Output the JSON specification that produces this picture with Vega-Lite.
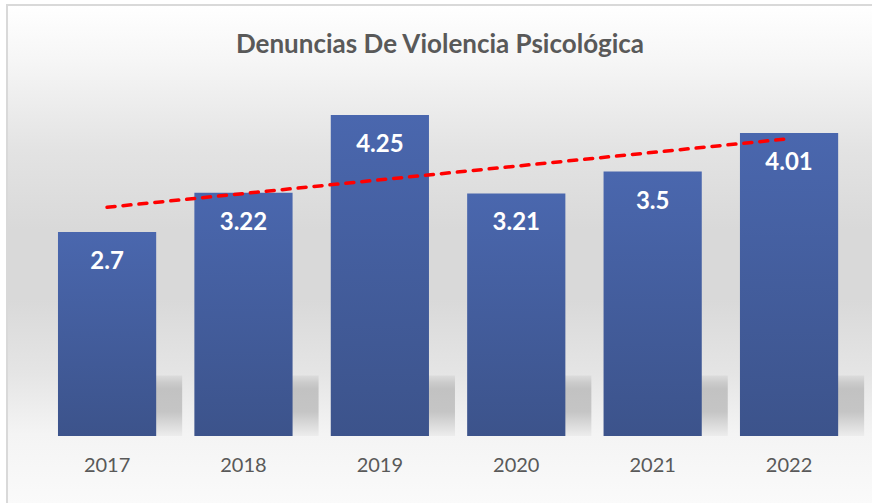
{
  "$schema": "https://vega.github.io/schema/vega-lite/v6.json",
  "width": 866,
  "height": 499,
  "autosize": {"type": "none"},
  "padding": {"left": 7, "top": 5, "right": 0, "bottom": 0},
  "background": "#ffffff",
  "config": {
    "view": {
      "stroke": "#d9d9d9",
      "strokeWidth": 2,
      "fill": {
        "gradient": "linear", "x1": 0, "y1": 0, "x2": 0, "y2": 1,
        "stops": [
          {"offset": 0, "color": "#ffffff"},
          {"offset": 0.11, "color": "#f6f6f6"},
          {"offset": 0.29, "color": "#e3e3e3"},
          {"offset": 0.45, "color": "#d9d9d9"},
          {"offset": 0.59, "color": "#d9d9d9"},
          {"offset": 0.74, "color": "#e5e5e5"},
          {"offset": 0.86, "color": "#f4f4f4"},
          {"offset": 1, "color": "#fafafa"}
        ]
      }
    },
    "font": "Lato"
  },
  "title": {
    "text": "Denuncias De Violencia Psicológica",
    "font": "Lato",
    "fontSize": 26,
    "fontWeight": "bold",
    "color": "#595959",
    "anchor": "middle",
    "offset": -53
  },
  "data": {
    "values": [
      {"year": 2017, "value": 2.7},
      {"year": 2018, "value": 3.22},
      {"year": 2019, "value": 4.25},
      {"year": 2020, "value": 3.21},
      {"year": 2021, "value": 3.5},
      {"year": 2022, "value": 4.01}
    ]
  },
  "encoding": {
    "x": {
      "field": "year",
      "type": "ordinal",
      "scale": {"paddingInner": 0.28, "paddingOuter": 0.3146, "align": 0.594},
      "axis": {
        "title": null,
        "labelAngle": 0,
        "domain": false,
        "ticks": false,
        "offset": -68,
        "labelFontSize": 20,
        "labelColor": "#595959",
        "labelPadding": 19,
        "labelFont": "Lato"
      }
    },
    "y": {
      "field": "value",
      "type": "quantitative",
      "scale": {"domain": [-0.9, 5.705], "nice": false, "zero": false},
      "axis": null
    }
  },
  "layer": [
    {
      "mark": {
        "type": "bar",
        "xOffset": 26,
        "color": {
          "gradient": "linear", "x1": 0, "y1": 0, "x2": 0, "y2": 1,
          "stops": [
            {"offset": 0, "color": "#dcdcdc"},
            {"offset": 0.12, "color": "#cbcbcb"},
            {"offset": 0.22, "color": "#c2c2c2"},
            {"offset": 0.6, "color": "#c5c5c5"},
            {"offset": 1, "color": "#ededed"}
          ]
        }
      },
      "encoding": {
        "y": {"datum": 0.8, "type": "quantitative"},
        "y2": {"datum": 0}
      }
    },
    {
      "mark": {
        "type": "bar",
        "color": {
          "gradient": "linear", "x1": 0, "y1": 0, "x2": 0, "y2": 1,
          "stops": [
            {"offset": 0, "color": "#4a67ae"},
            {"offset": 1, "color": "#3c538b"}
          ]
        }
      },
      "encoding": {
        "y2": {"datum": 0}
      }
    },
    {
      "mark": {
        "type": "text",
        "color": "#ffffff",
        "fontSize": 24,
        "fontWeight": "bold",
        "font": "Lato",
        "baseline": "middle",
        "dy": 30
      },
      "encoding": {"text": {"field": "value", "type": "quantitative"}}
    },
    {
      "transform": [{"regression": "value", "on": "year"}],
      "mark": {
        "type": "line",
        "color": "#ff0000",
        "strokeWidth": 3.5,
        "strokeDash": [8, 8],
        "strokeCap": "round"
      },
      "encoding": {}
    }
  ]
}
